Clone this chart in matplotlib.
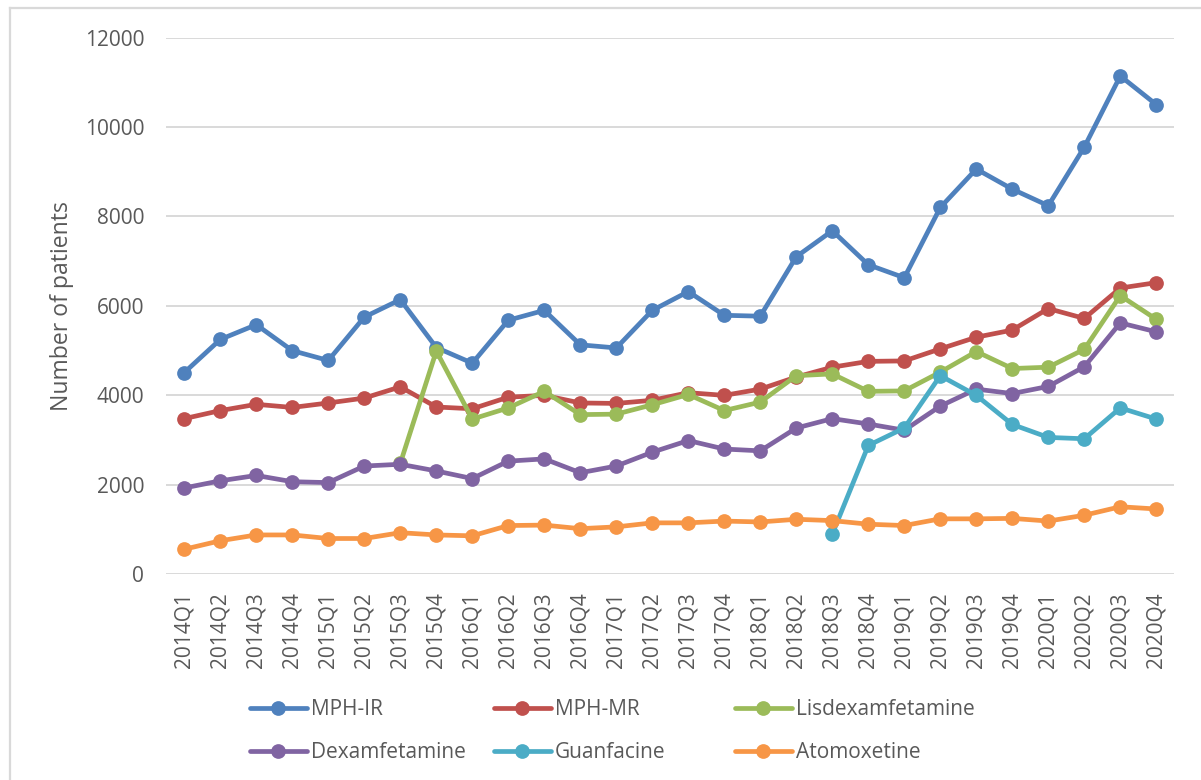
import numpy as np
import matplotlib
matplotlib.use("Agg")
import matplotlib.pyplot as plt
from matplotlib.lines import Line2D

nan = np.nan

quarters = ["2014Q1", "2014Q2", "2014Q3", "2014Q4",
            "2015Q1", "2015Q2", "2015Q3", "2015Q4",
            "2016Q1", "2016Q2", "2016Q3", "2016Q4",
            "2017Q1", "2017Q2", "2017Q3", "2017Q4",
            "2018Q1", "2018Q2", "2018Q3", "2018Q4",
            "2019Q1", "2019Q2", "2019Q3", "2019Q4",
            "2020Q1", "2020Q2", "2020Q3", "2020Q4"]

mph_ir = [4510, 5250, 5580, 5000, 4780, 5750, 6140, 5070, 4720, 5680, 5900, 5130, 5060, 5900,
          6320, 5790, 5770, 7100, 7680, 6920, 6630, 8200, 9060, 8610, 8240, 9550, 11140, 10500]
mph_mr = [3480, 3660, 3800, 3730, 3830, 3940, 4190, 3740, 3700, 3960, 4000, 3830, 3820, 3890,
          4060, 4000, 4140, 4410, 4630, 4760, 4770, 5040, 5300, 5460, 5940, 5720, 6400, 6520]
lisdexamfetamine = [nan, nan, nan, nan, nan, nan, 2480, 4990, 3470, 3720, 4090, 3570, 3580, 3790,
                    4020, 3660, 3850, 4440, 4480, 4090, 4100, 4520, 4980, 4600, 4630, 5030, 6230, 5700]
dexamfetamine = [1930, 2090, 2210, 2070, 2050, 2420, 2460, 2310, 2140, 2530, 2580, 2270, 2420, 2730,
                 2990, 2800, 2760, 3270, 3480, 3360, 3220, 3760, 4140, 4040, 4200, 4640, 5620, 5420]
guanfacine = [nan, nan, nan, nan, nan, nan, nan, nan, nan, nan, nan, nan, nan, nan,
              nan, nan, nan, nan, 900, 2880, 3270, 4440, 4000, 3350, 3060, 3030, 3720, 3470]
atomoxetine = [560, 750, 880, 880, 800, 800, 930, 880, 860, 1090, 1100, 1020, 1060, 1150,
               1150, 1190, 1170, 1230, 1200, 1120, 1090, 1240, 1240, 1250, 1190, 1320, 1510, 1460]

series_names = ["MPH-IR", "MPH-MR", "Lisdexamfetamine", "Dexamfetamine", "Guanfacine", "Atomoxetine"]
series_values = [mph_ir, mph_mr, lisdexamfetamine, dexamfetamine, guanfacine, atomoxetine]
colors = ["#4F81BD", "#C0504D", "#9BBB59", "#8064A2", "#4BACC6", "#F79646"]

W, H = 1201, 780
plt.rcParams['font.family'] = ['Open Sans', 'DejaVu Sans']
TEXT = "#595959"
FS = 15

fig = plt.figure(figsize=(W / 100, H / 100), dpi=100)
fig.patch.set_facecolor("white")
left, right = 166.3 / W, 1174.3 / W
bottom, top = 1 - 574.3 / H, 1 - 37.5 / H
ax = fig.add_axes([left, bottom, right - left, top - bottom])

x = np.arange(len(quarters))
handles = []
for name, vals, c in zip(series_names, series_values, colors):
    h, = ax.plot(x, np.array(vals, dtype=float), color=c, lw=3.4, marker="o",
                 markersize=10.6, markeredgewidth=0, label=name,
                 solid_joinstyle="round", solid_capstyle="round", clip_on=False)
    handles.append(h)

ax.set_xlim(-0.5, len(quarters) - 0.5)
ax.set_ylim(0, 12000)
ax.set_yticks(np.arange(0, 12001, 2000))
ax.set_yticklabels([str(v) for v in range(0, 12001, 2000)])
ax.set_xticks(x)
ax.set_xticklabels(quarters, rotation=90)
ax.grid(axis="y", color="#D9D9D9", lw=1.4)
ax.set_axisbelow(True)
for s in ax.spines.values():
    s.set_visible(False)
ax.tick_params(axis="both", length=0, labelsize=FS, labelcolor=TEXT)
ax.tick_params(axis="x", pad=13)
ax.tick_params(axis="y", pad=16)

fig.text(62 / W, 1 - 306 / H, "Number of patients", rotation=90, ha="center", va="center",
         fontsize=16.6, color=TEXT)

# legend: three columns, two rows
cols = [(250, [0, 3]), (494, [1, 4]), (735, [2, 5])]
for x0, idx in cols:
    lg = fig.legend(handles=[handles[i] for i in idx], labels=[series_names[i] for i in idx],
                    loc="center left", bbox_to_anchor=(x0 / W, 1 - 731 / H),
                    frameon=False, fontsize=FS, borderpad=0, borderaxespad=0,
                    handlelength=2.72, handletextpad=0.2, labelspacing=1.05,
                    markerscale=1.0)
    for t in lg.get_texts():
        t.set_color(TEXT)

# chart border (top and left visible)
fig.add_artist(Line2D([9.7 / W, 9.7 / W], [0, 1 - 7.5 / H], color="#D9D9D9", lw=1.6))
fig.add_artist(Line2D([9.7 / W, 1], [1 - 7.5 / H, 1 - 7.5 / H], color="#D9D9D9", lw=1.6))

fig.savefig("out.png", dpi=100, facecolor="white")
